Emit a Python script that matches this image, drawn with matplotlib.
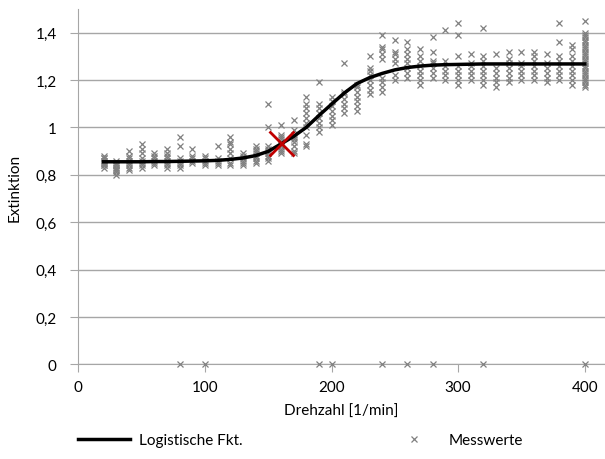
import numpy as np
import matplotlib
matplotlib.use("Agg")
import matplotlib.pyplot as plt
from matplotlib.ticker import FuncFormatter

plt.rcParams['font.family'] = ['Lato', 'DejaVu Sans']

# Drehzahl-Stufen der Messungen
drehzahl = [20, 30, 40, 50, 60, 70, 80, 90, 100, 110, 120, 130, 140, 150, 160,
            170, 180, 190, 200, 210, 220, 230, 240, 250, 260, 270, 280, 290,
            300, 310, 320, 330, 340, 350, 360, 370, 380, 390, 400]

messwerte = [
    [0.83, 0.84, 0.85, 0.86, 0.87, 0.88, 0.85, 0.84, 0.86, 0.87],
    [0.80, 0.81, 0.82, 0.83, 0.84, 0.85, 0.86, 0.82, 0.83, 0.84],
    [0.82, 0.83, 0.84, 0.85, 0.86, 0.87, 0.88, 0.90],
    [0.83, 0.84, 0.85, 0.86, 0.87, 0.89, 0.91, 0.93],
    [0.84, 0.85, 0.86, 0.87, 0.88, 0.89],
    [0.83, 0.84, 0.85, 0.86, 0.87, 0.88, 0.89, 0.91],
    [0.0, 0.83, 0.84, 0.85, 0.86, 0.87, 0.92, 0.96],
    [0.85, 0.86, 0.87, 0.88, 0.91],
    [0.0, 0.84, 0.85, 0.86, 0.87, 0.88],
    [0.84, 0.85, 0.86, 0.87, 0.92],
    [0.84, 0.85, 0.87, 0.89, 0.91, 0.93, 0.94, 0.96],
    [0.84, 0.85, 0.86, 0.87, 0.88, 0.89],
    [0.85, 0.86, 0.87, 0.88, 0.89, 0.90, 0.91, 0.92],
    [0.86, 0.87, 0.88, 0.89, 0.90, 0.91, 0.92, 1.00, 1.10],
    [0.89, 0.90, 0.91, 0.92, 0.93, 0.94, 0.95, 0.96, 0.97, 1.01],
    [0.89, 0.90, 0.92, 0.94, 0.95, 0.96, 0.97, 0.99, 1.03],
    [0.92, 0.93, 0.97, 1.00, 1.02, 1.04, 1.06, 1.08, 1.10, 1.13],
    [0.0, 0.98, 1.00, 1.02, 1.04, 1.06, 1.08, 1.10, 1.19],
    [0.0, 1.01, 1.03, 1.05, 1.07, 1.09, 1.11, 1.13],
    [1.06, 1.08, 1.10, 1.12, 1.14, 1.15, 1.27],
    [1.07, 1.09, 1.11, 1.13, 1.15, 1.17, 1.18],
    [1.14, 1.16, 1.18, 1.20, 1.22, 1.24, 1.25, 1.30],
    [0.0, 1.15, 1.17, 1.19, 1.21, 1.29, 1.31, 1.33, 1.34, 1.39],
    [1.20, 1.22, 1.27, 1.29, 1.31, 1.32, 1.37],
    [0.0, 1.21, 1.23, 1.25, 1.27, 1.29, 1.31, 1.33, 1.36],
    [1.18, 1.20, 1.22, 1.24, 1.26, 1.28, 1.30, 1.33],
    [0.0, 1.21, 1.23, 1.25, 1.27, 1.28, 1.32, 1.38],
    [1.20, 1.22, 1.24, 1.26, 1.28, 1.41],
    [1.18, 1.20, 1.22, 1.24, 1.26, 1.30, 1.39, 1.44],
    [1.20, 1.22, 1.24, 1.26, 1.27, 1.31],
    [0.0, 1.18, 1.20, 1.22, 1.24, 1.26, 1.28, 1.30, 1.42],
    [1.17, 1.19, 1.21, 1.23, 1.25, 1.31],
    [1.19, 1.21, 1.23, 1.25, 1.27, 1.29, 1.32],
    [1.20, 1.22, 1.24, 1.26, 1.27, 1.32],
    [1.20, 1.22, 1.24, 1.26, 1.28, 1.30, 1.32],
    [1.19, 1.21, 1.23, 1.25, 1.27, 1.31],
    [1.20, 1.22, 1.24, 1.26, 1.28, 1.30, 1.36, 1.44],
    [1.18, 1.20, 1.22, 1.24, 1.26, 1.28, 1.30, 1.33, 1.35],
    [0.0, 1.17, 1.18, 1.19, 1.20, 1.21, 1.22, 1.23, 1.24, 1.25, 1.26,
     1.27, 1.28, 1.29, 1.30, 1.31, 1.32, 1.33, 1.34, 1.35, 1.36, 1.37,
     1.38, 1.39, 1.40, 1.45],
]

logist = [0.855, 0.855, 0.855, 0.855, 0.856, 0.856, 0.857, 0.858, 0.859,
          0.861, 0.865, 0.871, 0.881, 0.899, 0.930, 0.962, 1.000, 1.050,
          1.098, 1.145, 1.185, 1.210, 1.228, 1.243, 1.253, 1.259, 1.263,
          1.265, 1.266, 1.267, 1.268, 1.268, 1.268, 1.268, 1.268, 1.268,
          1.268, 1.268, 1.268]

# Wendepunkt (rotes Kreuz)
wp_x = [160]
wp_y = [0.935]

mx = []
my = []
for d, werte in zip(drehzahl, messwerte):
    for w in werte:
        mx.append(d)
        my.append(w)

fig = plt.figure(figsize=(6.05, 4.6), dpi=100)
ax = fig.add_axes([78.3/605, 1-365.3/460, (605-78.3)/605, 355.3/460])

grau = '#a6a6a6'
ax.set_xlim(0, 416)
ax.set_ylim(0, 1.5)
ax.set_yticks(np.arange(0, 1.41, 0.2))
ax.set_xticks([0, 100, 200, 300, 400])
ax.yaxis.set_major_formatter(FuncFormatter(lambda v, p: ('%g' % round(v, 1)).replace('.', ',')))
ax.grid(axis='y', color=grau, linewidth=1)
ax.set_axisbelow(True)
for s in ['top', 'right']:
    ax.spines[s].set_visible(False)
for s in ['left', 'bottom']:
    ax.spines[s].set_color(grau)
ax.tick_params(axis='both', direction='out', color=grau, length=5.5, labelsize=11)
ax.tick_params(axis='y', pad=10)
ax.tick_params(axis='x', pad=6)

ax.plot(mx, my, linestyle='none', marker='x', markersize=4.5, markeredgewidth=0.9,
        color='#808080', clip_on=False, zorder=3, label='Messwerte')
ax.plot(drehzahl, logist, color='black', linewidth=2.5, zorder=4,
        label='Logistische Fkt.')
ax.plot(wp_x, wp_y, linestyle='none', marker='x', markersize=18,
        markeredgewidth=2, color='#c00000', zorder=5)

ax.set_xlabel('Drehzahl [1/min]', fontsize=11, labelpad=7)
ax.set_ylabel('Extinktion', fontsize=11, labelpad=10)

h, l = ax.get_legend_handles_labels()
fig.legend([h[1], h[0]], [l[1], l[0]], ncol=2, loc='center left',
           bbox_to_anchor=(78/605, 19/460), frameon=False,
           fontsize=11, handlelength=3.4, handletextpad=0.6,
           columnspacing=9.5, borderpad=0, borderaxespad=0)

fig.savefig('out.png', dpi=100)
